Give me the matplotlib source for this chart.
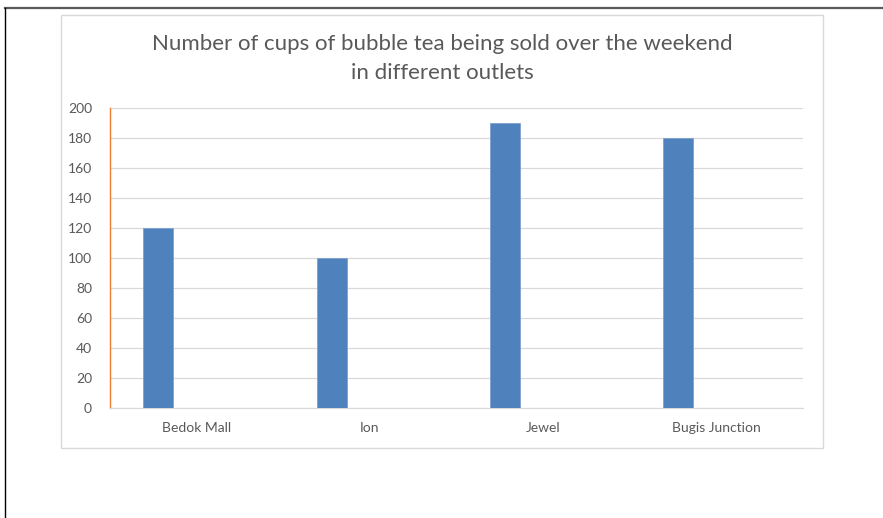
import matplotlib.pyplot as plt
from matplotlib.patches import Rectangle
from matplotlib.lines import Line2D

outlets = ['Bedok Mall', 'Ion', 'Jewel', 'Bugis Junction']
cups = [120, 100, 190, 180]
yticks = [0, 20, 40, 60, 80, 100, 120, 140, 160, 180, 200]

W, H = 883, 518
plt.rcParams['font.family'] = ['Lato', 'DejaVu Sans']

fig = plt.figure(figsize=(W / 100, H / 100), dpi=100)

# outer frame of the screenshot
fig.add_artist(Line2D([5 / W, 1], [1 - 8 / H, 1 - 8 / H], color='#5a5a5a', lw=1.6))
fig.add_artist(Line2D([5 / W, 5 / W], [0, 1 - 8 / H], color='#000000', lw=1.0))

# chart box
fig.add_artist(Rectangle((61 / W, 1 - 448 / H), (823 - 61) / W, (448 - 15) / H,
                         fill=False, edgecolor='#d9d9d9', lw=1.0))

ax = fig.add_axes([110 / W, 1 - 408 / H, (803 - 110) / W, 300 / H])
x = range(len(outlets))
ax.bar([i - 0.221 for i in x], cups, width=0.173, color='#4f81bd',
       edgecolor='#7ea1d0', linewidth=0.6, zorder=3)

ax.set_xlim(-0.5, len(outlets) - 0.5)
ax.set_ylim(0, 200)
ax.set_yticks(yticks)
ax.set_xticks(list(x))
ax.set_xticklabels(outlets)
ax.tick_params(axis='both', length=0, labelsize=10, colors='#595959')
ax.tick_params(axis='y', pad=13)
ax.tick_params(axis='x', pad=10)
ax.grid(axis='y', color='#d9d9d9', lw=0.9, zorder=0)
for s in ['top', 'right']:
    ax.spines[s].set_visible(False)
ax.spines['bottom'].set_color('#d9d9d9')
ax.spines['left'].set_color('#ed7d31')
ax.spines['left'].set_linewidth(1.0)

fig.text(442 / W, 1 - 44 / H, 'Number of cups of bubble tea being sold over the weekend',
         ha='center', va='center', fontsize=16, color='#595959')
fig.text(442 / W, 1 - 73 / H, 'in different outlets',
         ha='center', va='center', fontsize=16, color='#595959')

fig.savefig('out.png', dpi=100)
